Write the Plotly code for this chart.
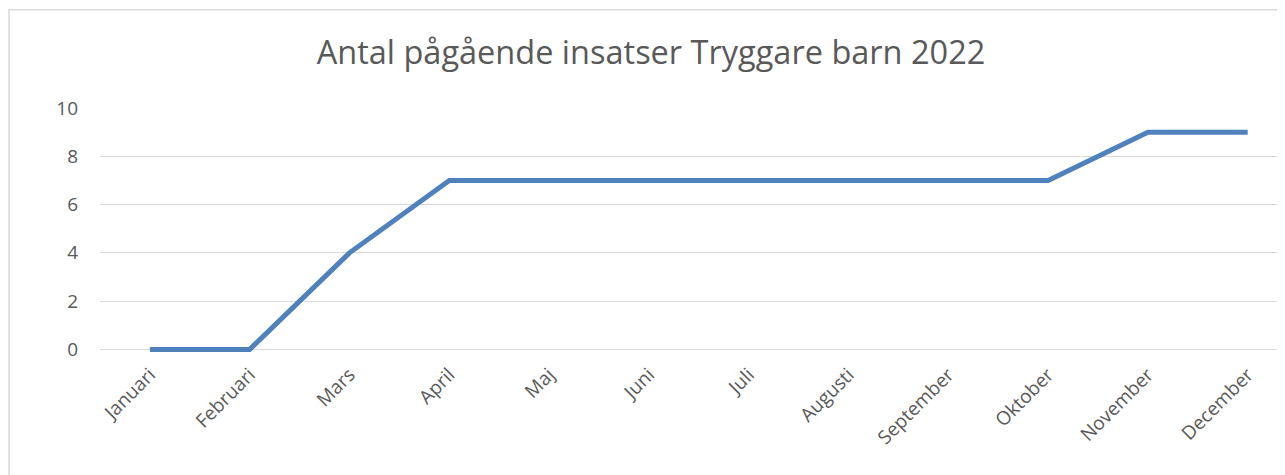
import plotly.graph_objects as go

months = ["Januari", "Februari", "Mars", "April", "Maj", "Juni", "Juli",
          "Augusti", "September", "Oktober", "November", "December"]
values = [0, 0, 4, 7, 7, 7, 7, 7, 7, 7, 9, 9]
y_ticks = [0, 2, 4, 6, 8, 10]
title_text = "Antal pågående insatser Tryggare barn 2022"

# page is offset by the 8px body margin of the html page
W, H = 1285, 475
px_per_unit = 24.1
y_lo = -0.15                      # small pad so the line at 0 isn't clipped
pad = -y_lo * px_per_unit
L, R, T = 92, 0, 100
B = 134 - pad
pw, ph = W - L - R, H - T - B

fig = go.Figure()
fig.add_trace(go.Scatter(
    x=list(range(len(months))), y=values, mode="lines",
    line=dict(color="#4F81BD", width=5), hoverinfo="skip", showlegend=False))

fig.update_layout(
    width=W, height=H,
    margin=dict(l=L, r=R, t=T, b=B),
    paper_bgcolor="white", plot_bgcolor="white",
    font=dict(family="Open Sans, Lato, sans-serif", color="#595959"),
    title=dict(text=title_text, x=0.5004, xanchor="center", y=0.907, yanchor="middle",
               font=dict(size=32.5, color="#595959")),
    xaxis=dict(
        tickmode="array", tickvals=list(range(len(months))), ticktext=months,
        range=[-0.5, -0.5 + pw / 99.8], tickangle=-45,
        showgrid=False, zeroline=False, showline=False, ticks="",
        ticklabelstandoff=round(10 - pad),
        tickfont=dict(size=19, color="#595959"), fixedrange=True),
    yaxis=dict(
        range=[y_lo, 10], tickvals=y_ticks, showgrid=True, gridcolor="#d9d9d9",
        gridwidth=1, zeroline=False, showline=False, ticks="",
        ticklabelstandoff=21,
        tickfont=dict(size=19, color="#595959"), fixedrange=True),
    shapes=[dict(type="rect", xref="paper", yref="paper",
                 x0=(1 - L) / pw, x1=(W + 40 - L) / pw,
                 y0=(H - B - (H + 40)) / ph, y1=(H - B - 2) / ph,
                 line=dict(color="#d9d9d9", width=1.5), fillcolor="rgba(0,0,0,0)",
                 layer="below")],
)

fig.write_html("out.html")
